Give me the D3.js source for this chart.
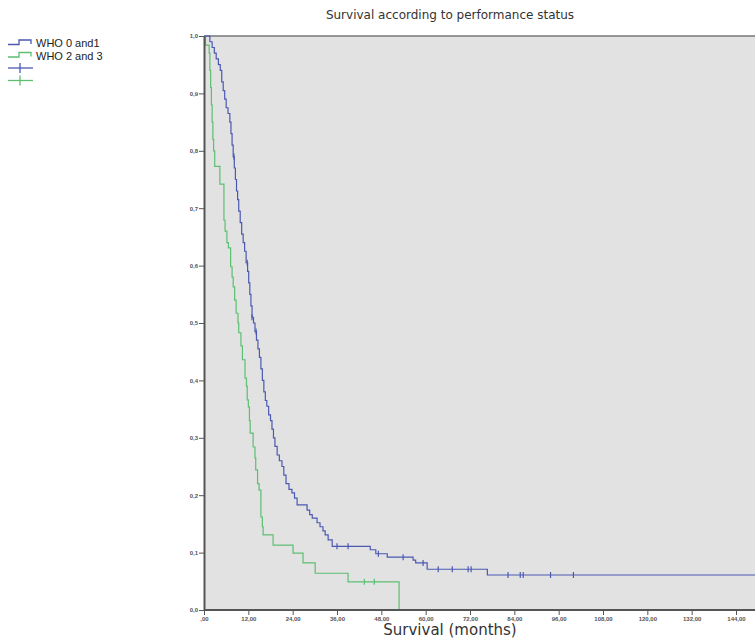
<!DOCTYPE html>
<html>
<head>
<meta charset="utf-8">
<script src="https://cdnjs.cloudflare.com/ajax/libs/d3/7.8.5/d3.min.js"></script>
<style>
  body { margin: 0; background: #fff; }
  svg { display: block; }
</style>
</head>
<body>
<script>
// tick values
var xTicks = [0, 12, 24, 36, 48, 60, 72, 84, 96, 108, 120, 132, 144];
var yTicks = [0, 0.1, 0.2, 0.3, 0.4, 0.5, 0.6, 0.7, 0.8, 0.9, 1.0];

var seriesNames = ["WHO 0 and1", "WHO 2 and 3"];

// WHO 0 and 1: event times (months) and survival after each step
var blueTimes = [1.6, 2.2, 2.8, 3.3, 3.9, 4.4, 4.8, 5.2, 5.6, 6.0, 6.5, 7.0, 7.3, 7.6, 7.9, 8.2, 8.5, 8.8,
  9.1, 9.4, 9.8, 10.2, 10.6, 11.0, 11.4, 11.8, 12.1, 12.4, 12.7, 13.0, 13.4, 13.8, 14.2, 14.6, 15.0,
  15.4, 15.8, 16.2, 16.6, 17.0, 17.5, 18.0, 18.4, 18.8, 19.2, 19.8, 20.4, 21.1, 21.6, 22.2, 23.0,
  23.8, 24.5, 25.2, 27.9, 28.6, 29.3, 30.6, 31.4, 32.2, 32.8, 33.6, 34.7, 45.0, 46.5, 49.6, 56.6,
  57.3, 60.4, 76.7];
var blueSurv = [0.99, 0.98, 0.97, 0.96, 0.95, 0.94, 0.92, 0.905, 0.89, 0.875, 0.865, 0.85, 0.83, 0.81,
  0.79, 0.77, 0.75, 0.73, 0.715, 0.695, 0.675, 0.655, 0.64, 0.625, 0.605, 0.59, 0.57, 0.55, 0.53,
  0.51, 0.50, 0.485, 0.47, 0.455, 0.44, 0.42, 0.40, 0.38, 0.365, 0.355, 0.34, 0.33, 0.315, 0.30,
  0.285, 0.27, 0.26, 0.25, 0.235, 0.22, 0.21, 0.204, 0.195, 0.183, 0.174, 0.166, 0.16, 0.152,
  0.145, 0.138, 0.131, 0.122, 0.111, 0.105, 0.098, 0.092, 0.087, 0.082, 0.071, 0.061];
var blueCensor = [8.1, 11.7, 13.0, 14.1, 36.0, 39.0, 47.2, 53.9, 59.3, 63.4, 67.2, 71.5, 72.3,
  82.3, 85.6, 86.4, 93.8, 100.0];
var blueEnd = 160;

// WHO 2 and 3
var greenTimes = [0.4, 1.4, 1.6, 1.8, 2.0, 2.2, 2.4, 2.6, 2.9, 4.3, 5.4, 5.7, 6.2, 6.6, 7.2, 7.6, 7.9,
  8.3, 8.7, 9.2, 9.4, 10.0, 10.4, 11.1, 11.5, 11.7, 12.0, 12.3, 12.5, 13.3, 13.8, 14.0, 14.5, 14.9,
  15.4, 15.8, 16.0, 18.7, 24.1, 26.8, 30.1, 39.0, 52.8];
var greenSurv = [0.984, 0.97, 0.94, 0.91, 0.88, 0.85, 0.82, 0.80, 0.773, 0.742, 0.679, 0.66, 0.64,
  0.631, 0.598, 0.58, 0.563, 0.54, 0.517, 0.50, 0.483, 0.46, 0.436, 0.404, 0.39, 0.366, 0.354, 0.33,
  0.308, 0.284, 0.265, 0.244, 0.22, 0.209, 0.162, 0.145, 0.131, 0.113, 0.099, 0.082, 0.064, 0.049, 0];
var greenCensor = [43.4, 46.1];

var colors = ["#4b59b2", "#5cbf72"];

var W = 755, H = 640;
var margin = {top: 36, left: 204, bottom: 30};
var plotW = 580, plotH = H - margin.top - margin.bottom;

var x = d3.scaleLinear().domain([0, 144]).range([0, 532]);
var y = d3.scaleLinear().domain([0, 1]).range([plotH, 0]);

var svg = d3.select("body").append("svg")
    .attr("width", W)
    .attr("height", H);

// title
svg.append("text")
    .attr("x", 450).attr("y", 19)
    .attr("text-anchor", "middle")
    .style("font-family", "'DejaVu Sans', sans-serif")
    .style("font-size", "12px")
    .style("fill", "#333")
    .text("Survival according to performance status");

var g = svg.append("g")
    .attr("transform", "translate(" + margin.left + "," + margin.top + ")");

// plot background
g.append("rect")
    .attr("width", plotW).attr("height", plotH)
    .attr("fill", "#e2e2e2");
g.append("line")
    .attr("x1", 0).attr("x2", plotW)
    .attr("y1", 0).attr("y2", 0)
    .attr("stroke", "#777").attr("stroke-width", 1.5);

function buildSeries(times, surv, end) {
  var pts = [{t: 0, s: 1}];
  times.forEach(function(t, i) { pts.push({t: t, s: surv[i]}); });
  if (end != null) pts.push({t: end, s: surv[surv.length - 1]});
  return pts;
}
function survAt(times, surv, t) {
  var i = d3.bisectRight(times, t);
  return i === 0 ? 1 : surv[i - 1];
}

var line = d3.line()
    .curve(d3.curveStepAfter)
    .x(function(d) { return x(d.t); })
    .y(function(d) { return y(d.s); });

var series = [
  {pts: buildSeries(blueTimes, blueSurv, blueEnd), times: blueTimes, surv: blueSurv, cens: blueCensor},
  {pts: buildSeries(greenTimes, greenSurv, null), times: greenTimes, surv: greenSurv, cens: greenCensor}
];

// draw green first so blue sits on top
[1, 0].forEach(function(k) {
  var s = series[k];
  g.append("path")
      .datum(s.pts)
      .attr("fill", "none")
      .attr("stroke", colors[k])
      .attr("stroke-width", 1.2)
      .attr("d", line);
  g.selectAll(".cens" + k)
      .data(s.cens)
    .enter().append("line")
      .attr("x1", function(d) { return x(d); })
      .attr("x2", function(d) { return x(d); })
      .attr("y1", function(d) { return y(survAt(s.times, s.surv, d)) - 3; })
      .attr("y2", function(d) { return y(survAt(s.times, s.surv, d)) + 3; })
      .attr("stroke", colors[k])
      .attr("stroke-width", 1.2);
});

// axes
var xAxis = g.append("g")
    .attr("transform", "translate(0," + plotH + ")")
    .call(d3.axisBottom(x).tickValues(xTicks).tickSize(5).tickSizeOuter(0)
      .tickFormat(function(d) { return d === 0 ? ",00" : d + ",00"; }));
xAxis.select(".domain").attr("stroke", "#555").attr("stroke-width", 2).attr("d", "M0,0H" + plotW);
xAxis.selectAll(".tick line").attr("stroke", "#555").attr("y1", -1).attr("y2", 5);
xAxis.selectAll(".tick text").attr("y", 7)
    .style("font-family", "'Liberation Sans', sans-serif").style("font-size", "6px")
    .style("font-weight", "bold").style("fill", "#555");

var yAxis = g.append("g")
    .call(d3.axisLeft(y).tickValues(yTicks).tickSize(5).tickSizeOuter(0)
      .tickFormat(function(d) { return d3.format(".1f")(d).replace(".", ","); }));
yAxis.select(".domain").attr("stroke", "#555").attr("stroke-width", 2);
yAxis.selectAll(".tick line").attr("stroke", "#555");
yAxis.selectAll(".tick text").attr("x", -6)
    .style("font-family", "'Liberation Sans', sans-serif").style("font-size", "6px")
    .style("font-weight", "bold").style("fill", "#555");

// x axis label
svg.append("text")
    .attr("x", 450).attr("y", 635)
    .attr("text-anchor", "middle")
    .style("font-family", "'DejaVu Sans', sans-serif")
    .style("font-size", "15px")
    .style("fill", "#333")
    .text("Survival (months)");

// legend
var legend = svg.append("g").attr("class", "legend");
seriesNames.forEach(function(name, i) {
  var ly = 43 + i * 12.5;
  legend.append("path")
      .attr("d", "M8," + (ly + 1.5) + "H19V" + (ly - 3) + "H31V" + (ly + 1))
      .attr("fill", "none")
      .attr("stroke", colors[i])
      .attr("stroke-width", 1.3);
  legend.append("text")
      .attr("x", 36).attr("y", ly + 4)
      .style("font-family", "'Liberation Sans', Arial, sans-serif")
      .style("font-size", "11px")
      .style("fill", "#222")
      .text(name);
});
colors.forEach(function(c, i) {
  var ly = 68 + i * 12.5;
  legend.append("line")
      .attr("x1", 8).attr("x2", 33).attr("y1", ly).attr("y2", ly)
      .attr("stroke", c).attr("stroke-width", 1.3);
  legend.append("line")
      .attr("x1", 20).attr("x2", 20).attr("y1", ly - 5).attr("y2", ly + 5)
      .attr("stroke", c).attr("stroke-width", 1.3);
});
</script>
</body>
</html>
